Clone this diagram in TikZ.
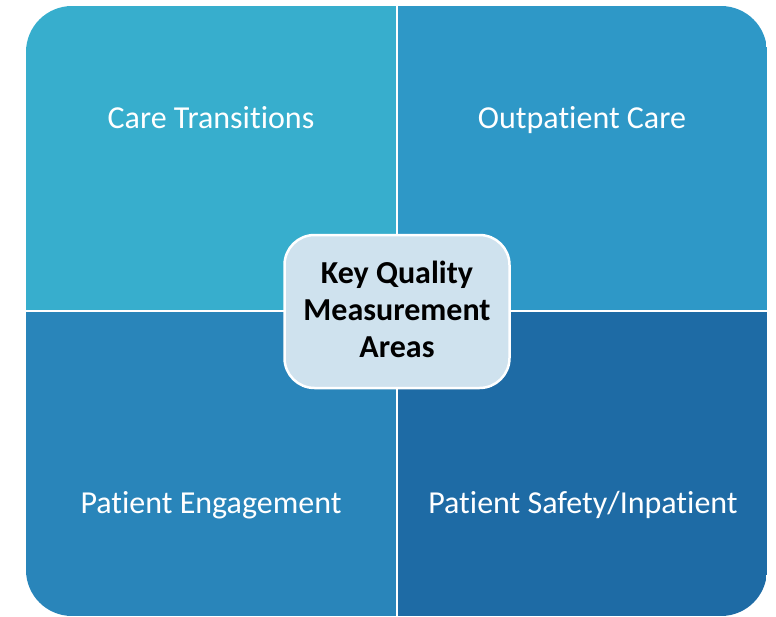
\documentclass[tikz,border=0pt]{standalone}
\usepackage{fontspec}
\setmainfont[Ligatures=NoCommon]{Carlito}
\usepackage{tikz}
\definecolor{tealA}{RGB}{55,174,205}
\definecolor{tealB}{RGB}{46,152,199}
\definecolor{tealC}{RGB}{41,133,186}
\definecolor{tealD}{RGB}{30,107,165}
\definecolor{hubfill}{RGB}{207,226,238}

\begin{document}
\begin{tikzpicture}[x=1pt, y=-1pt,
  label/.style={text=white, font=\fontsize{32}{38}\selectfont, inner sep=0pt, anchor=base},
  hub/.style={rectangle, draw=white, line width=2.5pt, fill=hubfill, rounded corners=30pt,
    minimum width=225pt, minimum height=153pt, align=center, text depth=5pt,
    font=\bfseries\fontsize{32}{37}\selectfont}]

\useasboundingbox (0,0) rectangle (776,616);

% four quadrants inside one rounded frame
\begin{scope}
  \clip[rounded corners=46pt] (26,6) rectangle (767,616);
  \fill[tealA] (26,6) rectangle (397,311);
  \fill[tealB] (397,6) rectangle (767,311);
  \fill[tealC] (26,311) rectangle (397,616);
  \fill[tealD] (397,311) rectangle (767,616);
\end{scope}
\draw[white, line width=2.5pt] (397,0) -- (397,616);
\draw[white, line width=2.5pt] (26,311) -- (767,311);

\node[label] (care) at (211,128.5) {Care Transitions};
\node[label] (outp) at (582,128.5) {Outpatient Care};
\node[label] (engage) at (211,513) {Patient Engagement};
\node[label] (safety) at (583,513) {Patient Safety/Inpatient};

\node[hub] (key) at (397,311.5) {Key Quality\\Measurement\\Areas};
\end{tikzpicture}
\end{document}
